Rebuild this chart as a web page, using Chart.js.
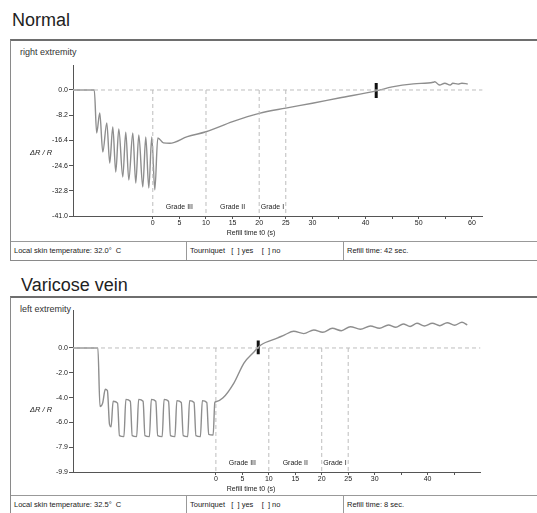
<!DOCTYPE html>
<html>
<head>
<meta charset="utf-8">
<script src="https://cdn.jsdelivr.net/npm/chart.js"></script>
<style>
html, body { margin: 0; padding: 0; background: #fff; }
body { width: 537px; height: 513px; overflow: hidden; position: relative; font-family: "Liberation Sans", Arial, sans-serif; color: #222; -webkit-font-smoothing: antialiased; }
.title { position: absolute; font-size: 18px; color: #222; }
.box { position: absolute; left: 10px; width: 560px; border: 1px solid #8a8a8a; border-top: 2px solid #6e6e6e; }
.side { position: absolute; left: 9px; top: 6px; font-size: 9px; color: #333; }
.info { position: absolute; left: 11px; width: 560px; height: 18px; border-top: 1px solid #999; font-size: 7.5px; color: #222; }
.info span { position: absolute; top: 0; height: 18px; line-height: 18px; padding-left: 3px; white-space: pre; }
.info span.div { border-left: 1px solid #999; }
canvas { position: absolute; left: 0; }
</style>
</head>
<body>

<div class="title" style="left:12px; top:10px;">Normal</div>
<div class="box" style="top:39px; height:219px;"><div class="side">right extremity</div></div>
<div class="info" style="top:241px;">
  <span style="left:0;">Local skin temperature: 32.0°  C</span>
  <span class="div" style="left:175px;">Tourniquet   [  ] yes    [  ] no</span>
  <span class="div" style="left:332px;">Refill time: 42 sec.</span>
</div>
<canvas id="normalCanvas" width="537" height="182" style="top:60px;"></canvas>

<div class="title" style="left:21px; top:275px;">Varicose vein</div>
<div class="box" style="top:296px; height:260px;"><div class="side">left extremity</div></div>
<div class="info" style="top:495px;">
  <span style="left:0;">Local skin temperature: 32.5°  C</span>
  <span class="div" style="left:175px;">Tourniquet   [  ] yes    [  ] no</span>
  <span class="div" style="left:332px;">Refill time: 8 sec.</span>
</div>
<canvas id="varicoseCanvas" width="537" height="191" style="top:305px;"></canvas>

<script>
// traces (time in s, ΔR/R)
var normalTime = [-15, -11.0, -10.55, -9.97, -9.40, -8.65, -8.09, -7.52, -6.96, -6.39, -5.64, -5.08, -4.51, -3.76, -3.20, -2.63, -1.88, -1.32, -0.75, -0.19, 0.38, 0.94, 2.0, 3.2, 6.5, 10, 15, 20, 25, 30, 35, 42, 45, 49, 52.7, 53.0, 53.9, 54.9, 55.9, 56.4, 57.4, 58.1, 59.2];
var normalValue = [0, 0, -14.0, -7.5, -20.2, -10.7, -23.8, -12.0, -26.7, -12.7, -28.3, -13.7, -29.3, -14.0, -30.3, -14.6, -31.6, -15.3, -31.9, -15.3, -32.5, -15.6, -17.2, -17.35, -15.2, -13.6, -10.3, -7.6, -5.9, -4.3, -2.6, -0.3, 1.0, 2.0, 2.5, 2.7, 1.6, 2.2, 1.6, 2.2, 1.9, 2.2, 1.95];

var varicoseTime = [-27, -22.3, -21.9, -21.4, -20.9, -20.5, -20.1, -19.8,
    -19.42, -18.58, -18.22, -17.38, -17.01, -16.17, -15.81, -14.97,
    -14.60, -13.76, -13.40, -12.56, -12.20, -11.36, -10.99, -10.15,
    -9.79, -8.95, -8.58, -7.74, -7.38, -6.54, -6.17, -5.33,
    -4.97, -4.13, -3.77, -2.93, -2.56, -1.72, -1.36, -0.52,
    -0.2, 0, 1.3, 3.4, 5.3, 7.2, 8.5, 11.7, 13.0,
    14.7, 16.6, 18.5, 20.2, 22.0, 23.7, 25.4, 27.3, 29.2, 30.9, 32.6, 34.0, 35.4, 36.7, 38.0, 39.4, 40.9, 42.3, 43.7, 45.1, 46.5, 47.5];
var varicoseValue = [0, 0, -4.68, -4.4, -3.3, -3.4, -6.1, -6.3,
    -4.25, -4.4, -7.0, -7.08, -4.1, -4.25, -7.0, -7.08,
    -4.1, -4.25, -7.0, -7.08, -4.1, -4.25, -7.0, -7.08,
    -4.1, -4.25, -7.0, -7.08, -4.2, -4.35, -7.0, -7.08,
    -4.2, -4.35, -7.0, -7.08, -4.2, -4.35, -6.9, -6.95,
    -4.35, -4.29, -4.0, -2.8, -1.2, -0.32, 0.24, 0.8, 1.05,
    1.33, 1.15, 1.44, 1.25, 1.57, 1.38, 1.70, 1.5, 1.76, 1.57, 1.84, 1.65, 1.92, 1.72, 1.97, 1.75, 1.97, 1.78, 2.02, 1.82, 2.05, 1.85];

var normalYTicks = [0, -8.2, -16.4, -24.6, -32.8, -41.0];
var normalYLabels = ['0.0', '-8.2', '-16.4', '-24.6', '-32.8', '-41.0'];
var varicoseYTicks = [0, -1.98, -3.96, -5.94, -7.92, -9.9];
var varicoseYLabels = ['0.0', '-2.0', '-4.0', '-6.0', '-7.9', '-9.9'];
var normalXTicks = [0, 5, 10, 15, 20, 25, 30, 35, 40, 45, 50, 55, 60];
var normalXLabels = ['0', '5', '10', '15', '20', '25', '30', '', '40', '', '50', '', '60'];
var varicoseXTicks = [0, 5, 10, 15, 20, 25, 30, 35, 40, 45];
var varicoseXLabels = ['0', '5', '10', '15', '20', '25', '30', '', '40', ''];

var gradeEdges = [0, 10, 20, 25];
var gradeNames = ['Grade III', 'Grade II', 'Grade I'];

var normalRefill = 42;
var normalMarker = [2.3, -2.6];
var varicoseRefill = 8;
var varicoseMarker = [0.6, -0.5];

var FONT = '"Liberation Sans", Arial, sans-serif';

var panelText = {
    id: 'panelText',
    afterDraw: function(chart) {
        var o = chart.options.plugins.panelText;
        var ctx = chart.ctx;
        var x = chart.scales.x, y = chart.scales.y;
        var bottom = chart.chartArea.bottom;
        ctx.save();
        ctx.fillStyle = '#222';
        ctx.textBaseline = 'middle';
        ctx.textAlign = 'center';
        ctx.font = '7px ' + FONT;
        for (var i = 0; i < gradeNames.length; i++) {
            var mid = (gradeEdges[i] + gradeEdges[i + 1]) / 2;
            ctx.fillText(gradeNames[i], x.getPixelForValue(mid), bottom - 9);
        }
        ctx.fillText('Refill time t0 (s)', 251, bottom + 17);
        ctx.textAlign = 'left';
        ctx.font = 'italic 7.5px ' + FONT;
        ctx.fillText('ΔR / R', 30, y.getPixelForValue(o.yMid));
        ctx.restore();
    }
};

function toPoints(t, v) {
    var pts = [];
    for (var i = 0; i < t.length; i++) pts.push({ x: t[i], y: v[i] });
    return pts;
}

function drawPanel(id, p) {
    var ctx = document.getElementById(id).getContext('2d');
    var dash = '#bdbdbd';
    var datasets = [
        {
            data: [{ x: p.xMin, y: 0 }, { x: p.xMax, y: 0 }],
            borderColor: dash, borderWidth: 1, borderDash: [4, 3]
        }
    ];
    gradeEdges.forEach(function(g) {
        datasets.push({
            data: [{ x: g, y: 0 }, { x: g, y: p.yMin }],
            borderColor: dash, borderWidth: 1, borderDash: [4, 3]
        });
    });
    datasets.push({
        data: toPoints(p.time, p.value),
        borderColor: '#8e8e8e', borderWidth: 1.4,
        cubicInterpolationMode: 'monotone'
    });
    datasets.push({
        data: [{ x: p.refill, y: p.marker[0] }, { x: p.refill, y: p.marker[1] }],
        borderColor: '#111', borderWidth: 3
    });

    var tickFont = { family: FONT, size: 7 };
    new Chart(ctx, {
        type: 'line',
        data: { datasets: datasets },
        plugins: [panelText],
        options: {
            responsive: false,
            animation: false,
            elements: { point: { radius: 0 }, line: { fill: false } },
            layout: { padding: { left: 0, right: p.padRight, top: p.padTop, bottom: 0 } },
            plugins: {
                legend: { display: false },
                tooltip: { enabled: false },
                panelText: { yMid: p.yMin / 2 }
            },
            scales: {
                x: {
                    type: 'linear', min: p.xMin, max: p.xMax,
                    grid: { drawOnChartArea: false, drawTicks: true, tickLength: 3, color: '#555' },
                    border: { color: '#555', width: 1 },
                    afterBuildTicks: function(s) { s.ticks = p.xTicks.map(function(v) { return { value: v }; }); },
                    afterFit: function(s) { s.height = p.xHeight; },
                    ticks: {
                        autoSkip: false, maxRotation: 0, padding: 0, color: '#222', font: tickFont,
                        callback: function(v, i) { return p.xLabels[i]; }
                    }
                },
                y: {
                    type: 'linear', min: p.yMin, max: p.yMax,
                    grid: { drawOnChartArea: false, drawTicks: true, tickLength: 4, color: '#555' },
                    border: { color: '#555', width: 1 },
                    afterBuildTicks: function(s) { s.ticks = p.yTicks.map(function(v) { return { value: v }; }); },
                    afterFit: function(s) { s.width = 73; },
                    ticks: {
                        autoSkip: false, padding: 1, color: '#222', font: tickFont,
                        callback: function(v, i) { return p.yLabels[i]; }
                    }
                }
            }
        }
    });
}

document.addEventListener('DOMContentLoaded', function() {
    drawPanel('normalCanvas', {
        time: normalTime, value: normalValue,
        xMin: -15, xMax: 62, yMin: -41, yMax: 8,
        xTicks: normalXTicks, xLabels: normalXLabels,
        yTicks: normalYTicks, yLabels: normalYLabels,
        refill: normalRefill, marker: normalMarker,
        padRight: 54.4, padTop: 5.4, xHeight: 26
    });
    drawPanel('varicoseCanvas', {
        time: varicoseTime, value: varicoseValue,
        xMin: -27, xMax: 50, yMin: -9.9, yMax: 3,
        xTicks: varicoseXTicks, xLabels: varicoseXLabels,
        yTicks: varicoseYTicks, yLabels: varicoseYLabels,
        refill: varicoseRefill, marker: varicoseMarker,
        padRight: 56.5, padTop: 5.4, xHeight: 24
    });
});
</script>
</body>
</html>
